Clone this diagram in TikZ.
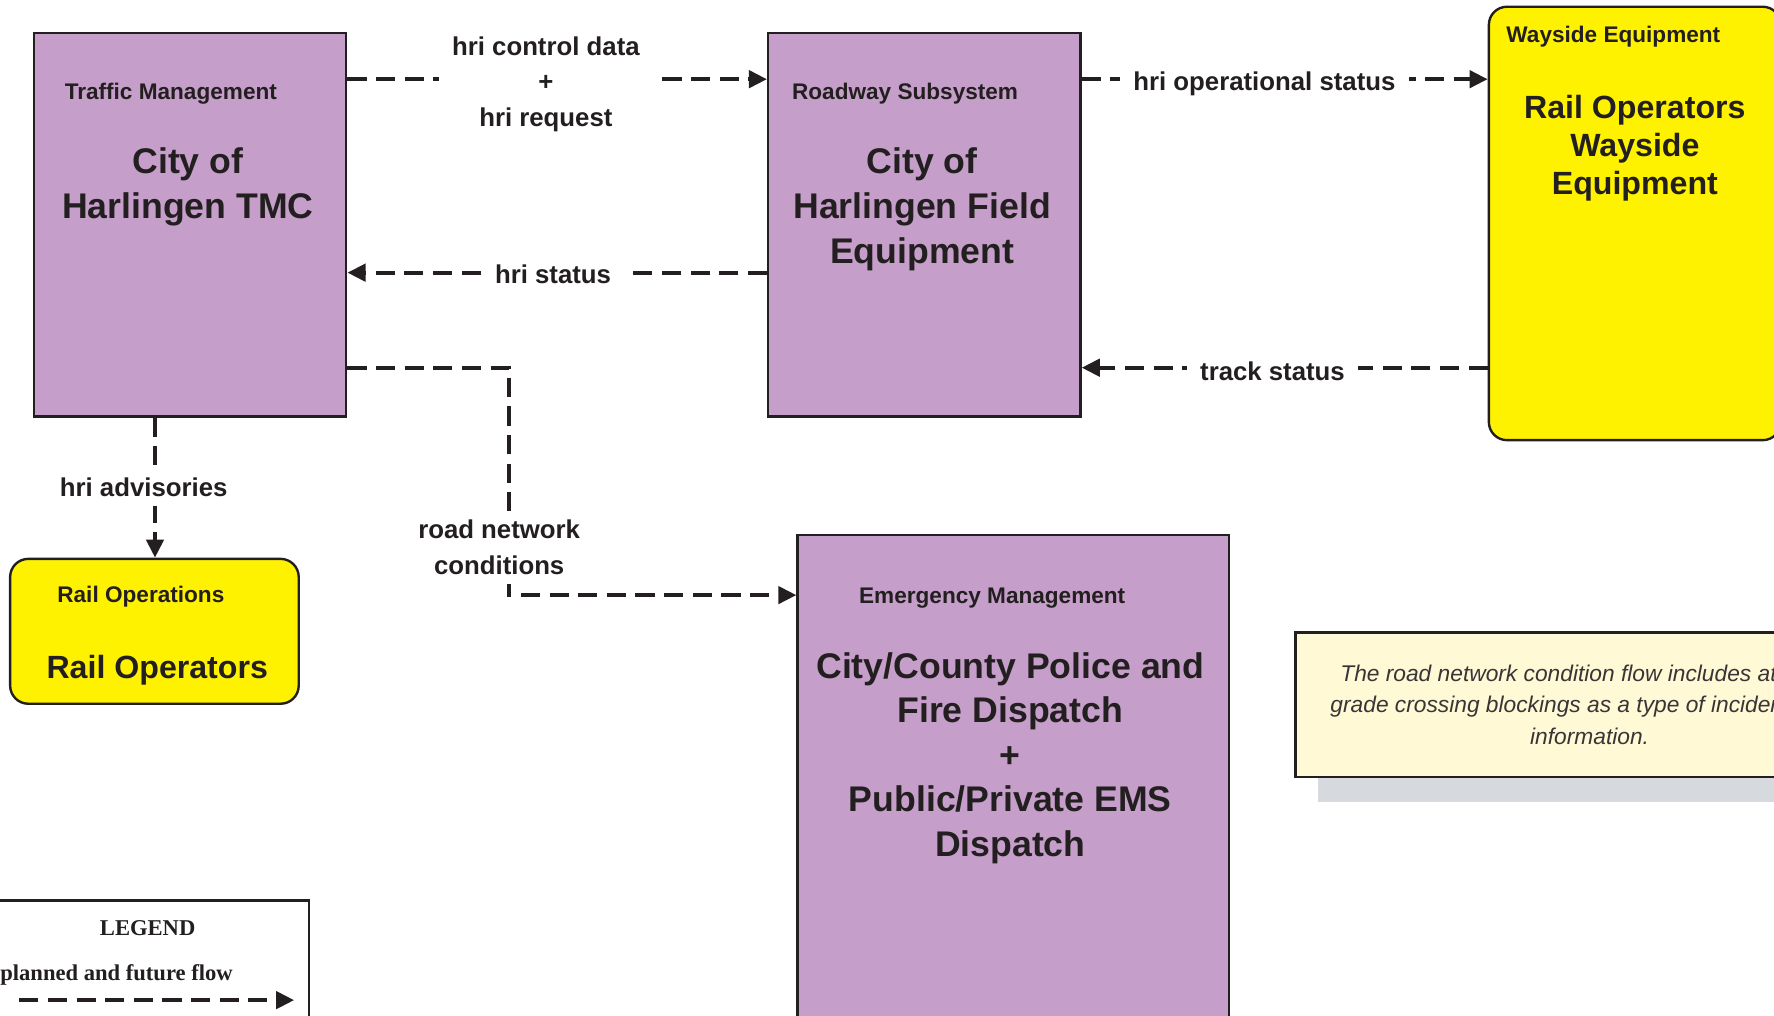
\documentclass[tikz,border=0pt]{standalone}
\usepackage{fontspec}
\setmainfont{Liberation Sans}
\newfontfamily\legendfont{Liberation Serif}
\definecolor{purple1}{RGB}{197, 159, 201}
\definecolor{yellow1}{RGB}{255, 242, 0}
\definecolor{note1}{RGB}{255, 249, 214}
\definecolor{shade1}{RGB}{214, 218, 222}
\definecolor{ink1}{RGB}{35, 31, 32}
\usepackage{tikz}
\usetikzlibrary{arrows.meta, positioning, shadows}

\tikzset{
  sysbox/.style={draw=ink1, line width=1.5pt, fill=purple1, inner sep=0pt},
  termbox/.style={draw=ink1, line width=1.5pt, fill=yellow1, rounded corners=0.4cm, inner sep=0pt},
  boxtitle/.style={text=ink1, font=\fontsize{14.2}{17}\selectfont\bfseries, inner sep=0pt},
  bigname/.style={text=ink1, align=center, font=\fontsize{22.4}{28.4}\selectfont\bfseries, inner sep=0pt},
  termname/.style={text=ink1, align=center, font=\fontsize{20.2}{23.8}\selectfont\bfseries, inner sep=0pt},
  flow/.style={draw=ink1, line width=2.5pt, dash pattern=on 12pt off 6pt, -{Triangle[length=0.4cm, width=0.38cm]}},
  flowlabel/.style={fill=white, text=ink1, align=center, font=\fontsize{16.2}{22.4}\selectfont\bfseries, inner xsep=0.3cm, inner ysep=0.2cm}
}

\begin{document}
\begin{tikzpicture}[x=0.025cm, y=-0.025cm]
  \useasboundingbox (0,0) rectangle (1568,898);

  % systems
  \node[sysbox, minimum width=6.9cm, minimum height=8.475cm] (tmc) at (168,198.5) {};
  \node[boxtitle] (tmctitle) at (151,83) {Traffic Management};
  \node[bigname] (tmcname) at (166,165) {City of\\Harlingen TMC};

  \node[sysbox, minimum width=6.9cm, minimum height=8.475cm] (road) at (817,198.5) {};
  \node[boxtitle] (roadtitle) at (800,83) {Roadway Subsystem};
  \node[bigname] (roadname) at (815,185) {City of\\Harlingen Field\\Equipment};

  \node[sysbox, minimum width=9.525cm, minimum height=12.675cm] (emg) at (895.5,726.5) {};
  \node[boxtitle] (emgtitle) at (877,529) {Emergency Management};
  \node[bigname, font=\fontsize{22.4}{28}\selectfont\bfseries] (emgname) at (893,670)
    {City/County Police and\\Fire Dispatch\\+\\Public/Private EMS\\Dispatch};

  % terminators
  \node[termbox, minimum width=6.45cm, minimum height=9.575cm] (way) at (1445,197.5) {};
  \node[boxtitle] (waytitle) at (1426,32) {Wayside Equipment};
  \node[termname] (wayname) at (1445,131) {Rail Operators\\Wayside\\Equipment};

  \node[termbox, minimum width=6.375cm, minimum height=3.2cm] (rail) at (136.5,558) {};
  \node[boxtitle] (railtitle) at (124.5,527) {Rail Operations};
  \node[termname] (railname) at (139,592) {Rail Operators};

  % note
  \node[draw=ink1, line width=1.5pt, fill=note1, minimum width=13cm, minimum height=3.2cm,
    drop shadow={shadow xshift=0.5cm, shadow yshift=-0.55cm, fill=shade1, opacity=1},
    text=ink1!90, align=center, font=\fontsize{14.3}{19.9}\selectfont\itshape] (note) at (1405,623)
    {The road network condition flow includes at-\rule{2.4em}{0pt}\\grade crossing blockings as a type of incident\rule{2.6em}{0pt}\\information.};

  % legend
  \node[draw=ink1, line width=1.5pt, fill=white, minimum width=7.125cm, minimum height=4.1cm] (legend) at (130.5,878) {};
  \node[text=ink1, font=\legendfont\fontsize{14.2}{17}\selectfont\bfseries] (legendtitle) at (130.5,820) {LEGEND};
  \node[text=ink1, font=\legendfont\fontsize{14.2}{17}\selectfont\bfseries] (legendflow) at (103,862) {planned and future flow};
  \coordinate (flowstart) at (17,884);
  \coordinate (flowend) at (260,884);
  \draw[flow] (flowstart) -- (flowend);

  % flows
  \coordinate (rowA) at (0,70);
  \coordinate (rowB) at (0,241);
  \coordinate (rowC) at (0,325);
  \coordinate (rowD) at (0,526);
  \coordinate (colA) at (137,0);
  \coordinate (colB) at (450,0);

  \draw[flow] (tmc.east |- rowA) -- node[flowlabel, xshift=-0.25cm, yshift=-0.11cm] {hri control data\\+\\hri request} (road.west |- rowA);
  \draw[flow] (road.west |- rowB) -- node[flowlabel, pos=0.51, yshift=-0.03cm] {hri status} (tmc.east |- rowB);
  \draw[flow] (road.east |- rowA) -- node[flowlabel, pos=0.45, yshift=-0.1cm] {hri operational status} (way.west |- rowA);
  \draw[flow] (way.west |- rowC) -- node[flowlabel, pos=0.53, yshift=-0.07cm] {track status} (road.east |- rowC);
  \draw[flow] (tmc.south -| colA) -- node[flowlabel, xshift=-0.25cm] {hri advisories} (rail.north -| colA);
  \draw[flow] (tmc.east |- rowC) -| node[flowlabel, pos=0.89, xshift=-0.22cm, yshift=-0.05cm] {road network\\conditions} (colB |- rowD) -- (emg.west |- rowD);
\end{tikzpicture}
\end{document}
